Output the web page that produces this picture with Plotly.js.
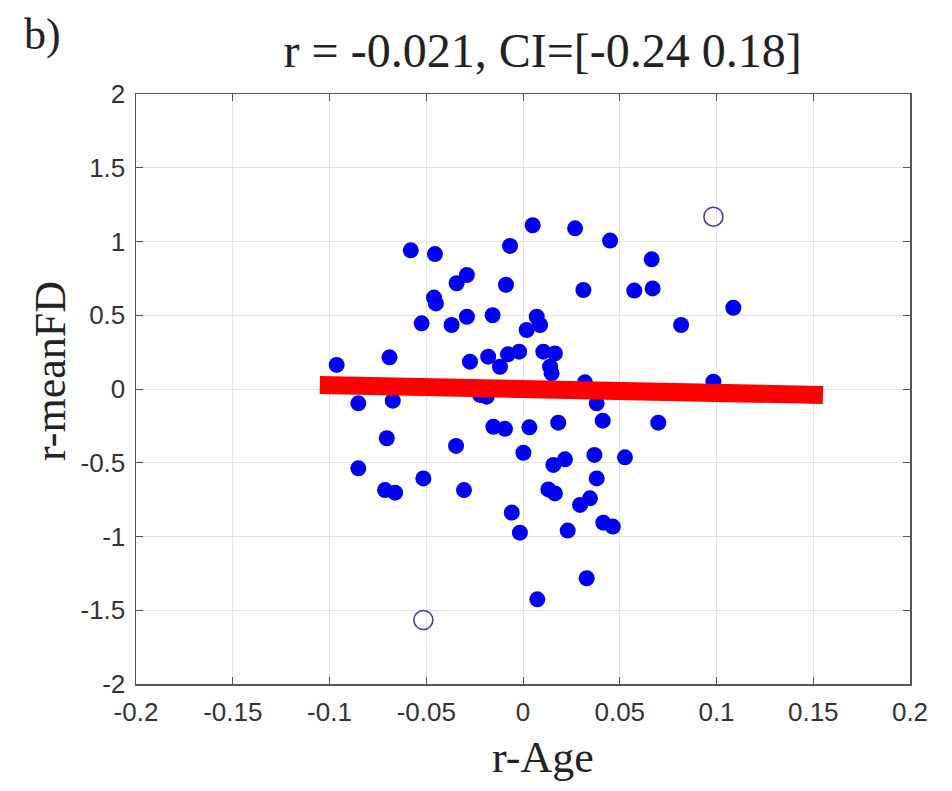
<!DOCTYPE html>
<html>
<head>
<meta charset="utf-8">
<script src="https://cdn.plot.ly/plotly-3.0.1.min.js"></script>
<style>
  html, body { margin: 0; padding: 0; background: #fff; }
  #plot { width: 952px; height: 791px; }
</style>
</head>
<body>
<div id="plot"></div>
<script>
// Residualised correlations per subject: r-Age vs r-meanFD
const rAge = [
  -0.058, -0.0455, -0.0067, -0.0343, -0.029, -0.0088, -0.046, -0.045,
  -0.0524, -0.0369, -0.029, -0.0157, -0.0963, -0.069, -0.0274, -0.018,
  -0.0119, -0.0078, -0.002, 0.005, 0.0269, 0.045, 0.0665, 0.0312,
  0.0575, 0.067, 0.1087, 0.0817, 0.0071, 0.0088, 0.0019, 0.0105,
  0.0165, 0.014, 0.0148, 0.032, 0.0984, -0.0851, -0.0673, -0.0222,
  -0.0188, -0.0153, -0.0093, -0.0704, -0.0346, -0.0851, -0.0515, -0.0713,
  -0.0661, -0.0305, -0.0058, 0.0381, 0.0033, 0.0182, 0.0412, 0.0699,
  0.0002, 0.0157, 0.0217, 0.0369, 0.0527, 0.0381, 0.0131, 0.0165,
  0.0295, 0.0346, -0.0016, 0.0231, 0.0415, 0.0464, 0.0329, 0.0074
];
const rMeanFD = [
  0.94, 0.915, 0.97, 0.717, 0.773, 0.707, 0.62, 0.58,
  0.445, 0.434, 0.49, 0.50, 0.163, 0.215, 0.185, 0.219,
  0.151, 0.235, 0.253, 1.11, 1.089, 1.006, 0.879, 0.671,
  0.667, 0.682, 0.551, 0.434, 0.49, 0.434, 0.40, 0.253,
  0.241, 0.151, 0.106, 0.045, 0.05, -0.097, -0.079, -0.04,
  -0.052, -0.256, -0.27, -0.334, -0.386, -0.538, -0.606, -0.685,
  -0.703, -0.685, -0.838, -0.097, -0.26, -0.228, -0.215, -0.228,
  -0.432, -0.515, -0.477, -0.447, -0.463, -0.606, -0.681, -0.708,
  -0.786, -0.741, -0.974, -0.96, -0.906, -0.933, -1.283, -1.426
];

// Outlying subjects (excluded from the fit)
const outlierAge = [0.0984, -0.0515];
const outlierFD = [1.168, -1.566];

// Robust regression line end points
const fitAge = [-0.105, 0.155];
const fitFD = [0.027, -0.041];

const xTicks = [-0.2, -0.15, -0.1, -0.05, 0, 0.05, 0.1, 0.15, 0.2];
const xTickText = ['-0.2', '-0.15', '-0.1', '-0.05', '0', '0.05', '0.1', '0.15', '0.2'];
const yTicks = [-2, -1.5, -1, -0.5, 0, 0.5, 1, 1.5, 2];
const yTickText = ['-2', '-1.5', '-1', '-0.5', '0', '0.5', '1', '1.5', '2'];

const serif = '"Liberation Serif", "Times New Roman", serif';
const sans = '"Liberation Sans", Arial, Helvetica, sans-serif';

const traces = [
  {
    x: rAge, y: rMeanFD, type: 'scatter', mode: 'markers',
    marker: { size: 16, color: '#0000f0', line: { width: 0 } },
    hoverinfo: 'x+y'
  },
  {
    x: outlierAge, y: outlierFD, type: 'scatter', mode: 'markers',
    marker: { size: 19, color: 'rgba(0,0,0,0)', line: { width: 1.6, color: '#3c3cc0' } },
    hoverinfo: 'x+y'
  },
  {
    x: fitAge, y: fitFD, type: 'scatter', mode: 'lines',
    line: { color: '#ff0000', width: 18 },
    hoverinfo: 'skip'
  }
];

const axisCommon = {
  showgrid: true, gridcolor: '#e4e4e4', gridwidth: 1,
  zeroline: false,
  showline: true, linecolor: '#555', linewidth: 1.5, mirror: 'ticks',
  ticks: 'inside', ticklen: 7, tickwidth: 1, tickcolor: '#555',
  tickfont: { family: sans, size: 26, color: '#333' },
  tickmode: 'array'
};

const layout = {
  width: 952, height: 791,
  margin: { l: 136, r: 42, t: 94, b: 107 },
  paper_bgcolor: '#fff', plot_bgcolor: '#fff',
  showlegend: false,
  title: {
    text: 'r = -0.021, CI=[-0.24 0.18]',
    font: { family: serif, size: 48, color: '#222' },
    x: 0.570, xanchor: 'center', xref: 'container',
    y: 0.937, yanchor: 'middle', yref: 'container'
  },
  xaxis: Object.assign({}, axisCommon, {
    range: [-0.2, 0.2], tickvals: xTicks, ticktext: xTickText, ticklabelstandoff: 4
  }),
  yaxis: Object.assign({}, axisCommon, {
    range: [-2, 2], tickvals: yTicks, ticktext: yTickText, ticklabelstandoff: 4
  }),
  annotations: [
    {
      text: 'b)', xref: 'paper', yref: 'paper',
      x: (22 - 136) / 774, y: (684 - 8) / 590, xanchor: 'left', yanchor: 'top',
      showarrow: false, font: { family: serif, size: 44, color: '#222' }
    },
    {
      text: 'r-Age', xref: 'paper', yref: 'paper',
      x: (543 - 136) / 774, y: (684 - 757) / 590, xanchor: 'center', yanchor: 'middle',
      showarrow: false, font: { family: serif, size: 44, color: '#222' }
    },
    {
      text: 'r-meanFD', xref: 'paper', yref: 'paper', textangle: -90,
      x: (50 - 136) / 774, y: (684 - 371) / 590, xanchor: 'center', yanchor: 'middle',
      showarrow: false, font: { family: serif, size: 44, color: '#222' }
    }
  ]
};

Plotly.newPlot('plot', traces, layout, { displayModeBar: false, staticPlot: true });
</script>
</body>
</html>
